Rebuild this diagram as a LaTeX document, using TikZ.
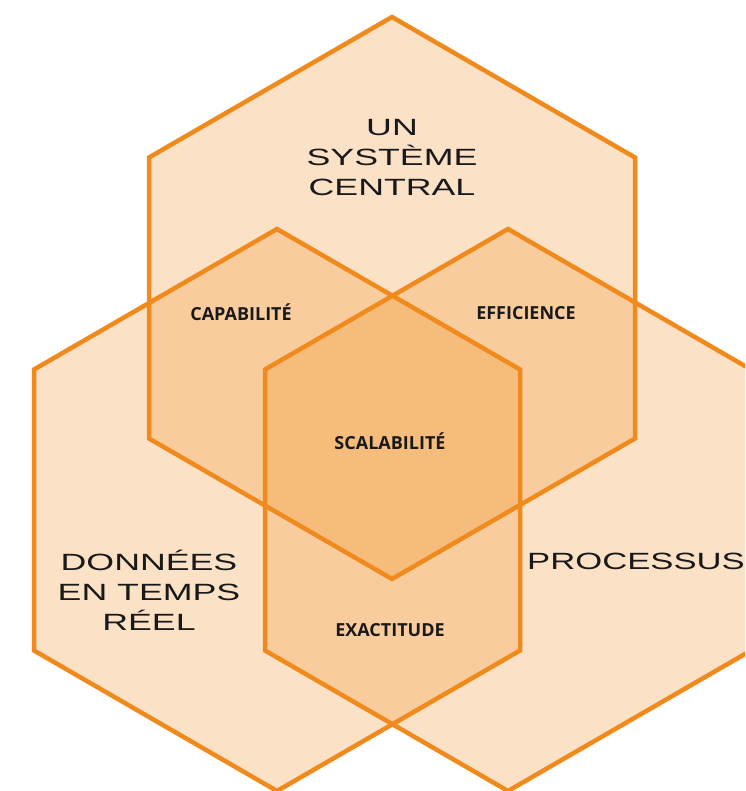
\documentclass[tikz,border=0pt]{standalone}
\usepackage{fontspec}
\setmainfont{Open Sans}
\newfontfamily\widefont[FakeStretch=1.52]{Liberation Sans}
\definecolor{hexorange}{RGB}{240,140,30}
\definecolor{hexline}{RGB}{240,138,28}
\begin{document}
\begin{tikzpicture}[x=1pt,y=-1pt,
  hexfill/.style={fill=hexorange,fill opacity=0.25,draw=none},
  hexedge/.style={draw=hexline,line width=4.5pt,line join=miter},
  biglabel/.style={font=\widefont\fontsize{23.5}{30}\selectfont,text=black!90,align=center,inner sep=0pt},
  smalllabel/.style={font=\bfseries\fontsize{18}{22}\selectfont,text=black!90,inner sep=0pt}]
\useasboundingbox (0,0) rectangle (745,791);
\begin{scope}
\clip (0,0) rectangle (745,791);
\newcommand\myhex[2]{(0,-281) -- (243,-140.5) -- (243,140.5) -- (0,281) -- (-243,140.5) -- (-243,-140.5) -- cycle}
% fills
\fill[hexfill,shift={(392,298)}] \myhex{}{};
\fill[hexfill,shift={(277,510)}] \myhex{}{};
\fill[hexfill,shift={(508,510)}] \myhex{}{};
% edges
\draw[hexedge,shift={(392,298)}] \myhex{}{};
\draw[hexedge,shift={(277,510)}] \myhex{}{};
\draw[hexedge,shift={(508,510)}] \myhex{}{};
\end{scope}
% labels
\node[biglabel] (top) at (392,158) {UN\\SYSTÈME\\CENTRAL};
\node[biglabel] (left) at (149,590) {DONNÉES\\EN TEMPS\\RÉEL};
\node[biglabel,anchor=west,xscale=0.97] (right) at (527,561) {PROCESSUS};
\node[smalllabel] (cap) at (241,312) {CAPABILITÉ};
\node[smalllabel] (eff) at (526,313) {EFFICIENCE};
\node[smalllabel] (sca) at (390,441) {SCALABILITÉ};
\node[smalllabel] (exa) at (390,630) {EXACTITUDE};
\end{tikzpicture}
\end{document}
